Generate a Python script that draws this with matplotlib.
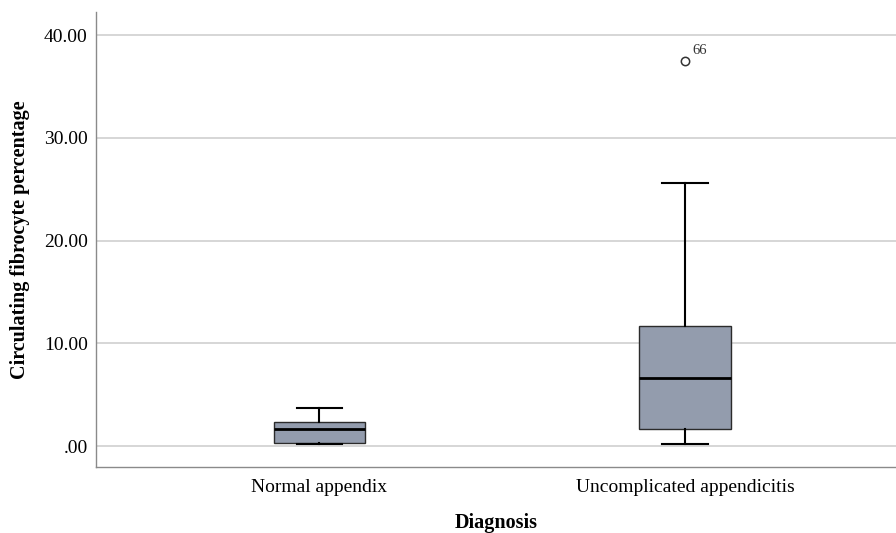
import matplotlib
matplotlib.use("Agg")
import matplotlib.pyplot as plt

categories = ["Normal appendix", "Uncomplicated appendicitis"]
whislo = [0.22, 0.16]
q1 = [0.26, 1.62]
med = [1.69, 6.62]
q3 = [2.34, 11.71]
whishi = [3.70, 25.6]
fliers = [[], [37.47]]
flier_labels = [[], ["66"]]
yticks = [0, 10, 20, 30, 40]
ytick_labels = [".00", "10.00", "20.00", "30.00", "40.00"]

plt.rcParams['font.family'] = ['Liberation Serif', 'DejaVu Serif']

fig = plt.figure(figsize=(8.96, 5.33), dpi=100)
ax = fig.add_axes([96/896, 66/533, 800/896, 455/533])

stats = []
for i, c in enumerate(categories):
    stats.append(dict(label=c, whislo=whislo[i], q1=q1[i], med=med[i],
                      q3=q3[i], whishi=whishi[i], fliers=fliers[i]))

positions = [1, 2]
ax.bxp(stats, positions=positions, widths=0.25, patch_artist=True,
       boxprops=dict(facecolor="#939cad", edgecolor="#2b2b2b", linewidth=1.0),
       medianprops=dict(color="black", linewidth=2.0),
       whiskerprops=dict(color="black", linewidth=1.5),
       capprops=dict(color="black", linewidth=1.5),
       capwidths=0.125,
       flierprops=dict(marker="o", markerfacecolor="white", markeredgecolor="#333333",
                       markersize=6, markeredgewidth=1.1))

for i, labs in enumerate(flier_labels):
    for v, lab in zip(fliers[i], labs):
        ax.annotate(lab, (positions[i], v), xytext=(5, 5), textcoords="offset points",
                    fontsize=10.5, color="#333333")

ax.set_xlim(0.389, 2.577)
ax.set_ylim(-2.04, 42.24)
ax.set_yticks(yticks)
ax.set_yticklabels(ytick_labels)
ax.set_xticks(positions)
ax.set_xticklabels(categories)
ax.tick_params(axis="both", length=0, labelsize=14, colors="black")
ax.tick_params(axis="y", pad=6)
ax.tick_params(axis="x", pad=9)
ax.yaxis.grid(True, color="#cfcfcf", linewidth=1.2)
ax.set_axisbelow(True)
for s in ["top", "right"]:
    ax.spines[s].set_visible(False)
for s in ["left", "bottom"]:
    ax.spines[s].set_color("#8a8a8a")
    ax.spines[s].set_linewidth(1.0)

ax.set_ylabel("Circulating fibrocyte percentage", fontsize=14.5, fontweight="bold", labelpad=10)
ax.set_xlabel("Diagnosis", fontsize=14.5, fontweight="bold", labelpad=12)

fig.savefig("out.png", dpi=100)
